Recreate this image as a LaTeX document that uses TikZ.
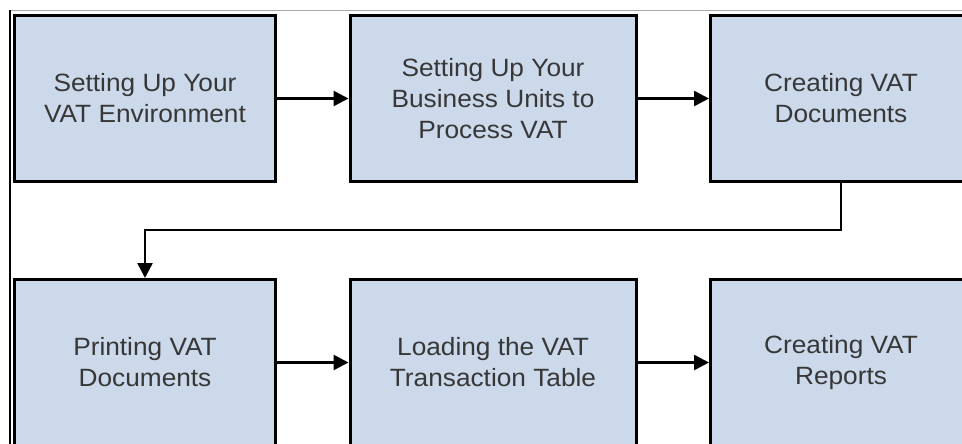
\documentclass[tikz,border=0pt]{standalone}
\usepackage{fontspec}
\setmainfont[FakeStretch=1.05]{Liberation Sans}
\usetikzlibrary{positioning, arrows.meta}
\definecolor{stageblue}{RGB}{204,217,235}
\definecolor{stagetext}{RGB}{55,55,55}
\tikzset{>={Triangle[length=15pt, width=15pt]},
         node distance=95pt and 71.5pt,
         stage/.style={draw=black, line width=3pt, fill=stageblue,
                       text=stagetext, align=center, inner sep=0pt,
                       minimum width=261pt, minimum height=166pt,
                       font=\fontsize{25}{31}\selectfont},
         wide/.style={minimum width=286pt},
         flow/.style={->, line width=2.5pt},
         }

\begin{document}
\begin{tikzpicture}[x=1pt, y=1pt]
    \clip (0,0) rectangle (962,-444);
    % frame edges
    \draw[gray!70, line width=1.5pt] (10,-10.5) -- (962,-10.5);
    \draw[line width=1.5pt] (10,-10) -- (10,-444);

    \node[stage] (setup) at (145,-98.5) {Setting Up Your\\VAT Environment};
    \node[stage, wide, right=of setup] (units) {Setting Up Your\\Business Units to\\Process VAT};
    \node[stage, right=of units] (create) {Creating VAT\\Documents};
    \node[stage, below=of setup] (print) {Printing VAT\\Documents};
    \node[stage, wide, right=of print] (load) {Loading the VAT\\Transaction Table};
    \node[stage, right=of load] (reports) {Creating VAT\\Reports};

    \draw[flow] (setup) -- (units);
    \draw[flow] (units) -- (create);
    \draw[flow] (create.south) -- ++(0,-47) -| (print.north);
    \draw[flow] (print) -- (load);
    \draw[flow] (load) -- (reports);
\end{tikzpicture}
\end{document}
